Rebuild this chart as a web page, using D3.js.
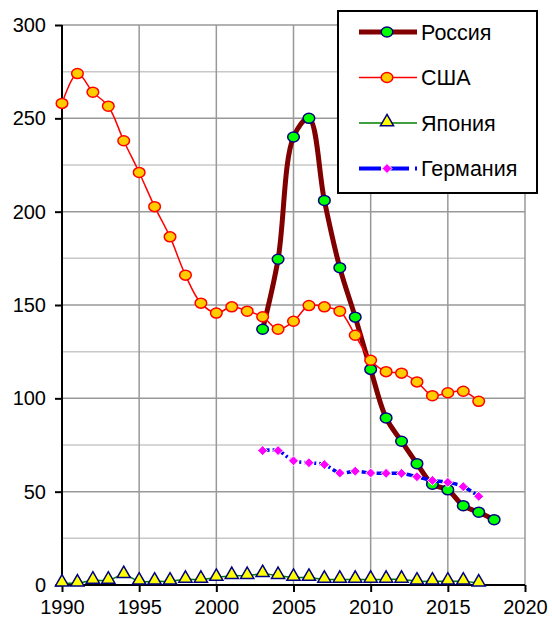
<!DOCTYPE html>
<html>
<head>
<meta charset="utf-8">
<script src="https://cdn.jsdelivr.net/npm/d3@7"></script>
<style>
  body { margin: 0; background: #fff; }
  text { font-family: Arial, "Liberation Sans", sans-serif; }
</style>
</head>
<body>
<script>
// Chart data
var russiaYears = [2003, 2004, 2005, 2006, 2007, 2008, 2009, 2010, 2011, 2012, 2013, 2014, 2015, 2016, 2017, 2018];
var russiaValues = [137, 174.5, 240, 250, 206, 170, 143.5, 115.5, 89.5, 77, 65, 54, 51, 42.5, 39, 35];

var usaYears = [1990, 1991, 1992, 1993, 1994, 1995, 1996, 1997, 1998, 1999, 2000, 2001, 2002, 2003,
  2004, 2005, 2006, 2007, 2008, 2009, 2010, 2011, 2012, 2013, 2014, 2015, 2016, 2017];
var usaValues = [258, 274, 264, 256.5, 238, 221, 202.7, 186.5, 166, 151, 145.7, 149, 146.7, 143.7,
  137, 141.3, 149.7, 149, 146.7, 133.8, 120.4, 114.3, 113.5, 108.8, 101.4, 103, 103.8, 98.4];

var japanYears = d3.range(1990, 2018);
var japanValues = [1, 1, 2.5, 2.5, 5.5, 2, 2, 2, 3, 3, 4, 5, 5, 6, 5, 4, 4, 3, 3, 3, 3, 3, 3, 2, 2, 2, 2, 1];

var germanyYears = d3.range(2003, 2018);
var germanyValues = [72, 72, 66.5, 65.5, 64.5, 60, 61, 60, 59.8, 59.8, 58, 56, 55, 52.7, 47.5];

var yTicks = [0, 50, 100, 150, 200, 250, 300];
var xTicks = [1990, 1995, 2000, 2005, 2010, 2015, 2020];

// Dimensions
var svgWidth = 552;
var svgHeight = 620;
var plot = { left: 62, right: 525, top: 25, bottom: 585 };

var svg = d3.select("body")
  .append("svg")
  .attr("width", svgWidth)
  .attr("height", svgHeight);

var xScale = d3.scaleLinear().domain([1990, 2020]).range([plot.left, plot.right]);
var yScale = d3.scaleLinear().domain([0, 300]).range([plot.bottom, plot.top]);

// Gridlines
var grid = svg.append("g");
grid.selectAll(".hminor")
  .data(d3.range(25, 300, 50))
  .enter().append("line")
  .attr("x1", plot.left).attr("x2", plot.right)
  .attr("y1", d => yScale(d)).attr("y2", d => yScale(d))
  .attr("stroke", "#c8c8c8").attr("stroke-width", 1.5);
grid.selectAll(".hmajor")
  .data(yTicks.slice(1))
  .enter().append("line")
  .attr("x1", plot.left).attr("x2", plot.right)
  .attr("y1", d => yScale(d)).attr("y2", d => yScale(d))
  .attr("stroke", "#999").attr("stroke-width", 1.5);
grid.selectAll(".vmajor")
  .data(xTicks.slice(1))
  .enter().append("line")
  .attr("x1", d => xScale(d)).attr("x2", d => xScale(d))
  .attr("y1", plot.top).attr("y2", plot.bottom)
  .attr("stroke", "#999").attr("stroke-width", 1.5);

// Axes
var yAxis = d3.axisLeft(yScale).tickValues(yTicks).tickSize(7).tickPadding(9);
var gy = svg.append("g")
  .attr("transform", `translate(${plot.left},0)`)
  .call(yAxis);
var xAxis = d3.axisBottom(xScale).tickValues(xTicks).tickSize(7).tickPadding(8).tickFormat(d3.format("d"));
var gx = svg.append("g")
  .attr("transform", `translate(0,${plot.bottom})`)
  .call(xAxis);
[gx, gy].forEach(function(g) {
  g.select(".domain").remove();
  g.selectAll("line").attr("stroke", "#000").attr("stroke-width", 2);
  g.selectAll("text").attr("font-size", 20).attr("fill", "#000")
    .style("font-family", "Arial, 'Liberation Sans', sans-serif");
});
svg.append("line")
  .attr("x1", plot.left).attr("x2", plot.left)
  .attr("y1", plot.top).attr("y2", plot.bottom)
  .attr("stroke", "#000").attr("stroke-width", 2);
svg.append("line")
  .attr("x1", plot.left).attr("x2", plot.right)
  .attr("y1", plot.bottom).attr("y2", plot.bottom)
  .attr("stroke", "#000").attr("stroke-width", 2);

// Marker shapes
var triangle = d3.symbol().type(d3.symbolTriangle).size(75);
var diamond = "M0,-5L5,0L0,5L-5,0Z";

function drawSeries(years, values, opts) {
  var data = years.map((y, i) => ({ year: y, value: values[i] }));
  var line = d3.line()
    .x(d => xScale(d.year))
    .y(d => yScale(d.value))
    .curve(d3.curveCatmullRom.alpha(0.5));
  var g = svg.append("g");
  g.append("path")
    .datum(data)
    .attr("d", line)
    .attr("fill", "none")
    .attr("stroke", opts.color)
    .attr("stroke-width", opts.width)
    .attr("stroke-dasharray", opts.dash || null);
  drawMarkers(g, data.map(d => [xScale(d.year), yScale(d.value)]), opts);
}

function drawMarkers(g, points, opts) {
  points.forEach(function(p) {
    var m;
    if (opts.marker === "ellipse") {
      m = g.append("ellipse").attr("cx", p[0]).attr("cy", p[1]).attr("rx", 5.8).attr("ry", 5);
    } else if (opts.marker === "triangle") {
      m = g.append("path").attr("d", triangle()).attr("transform", `translate(${p[0]},${p[1] - 1})`);
    } else {
      m = g.append("path").attr("d", diamond).attr("transform", `translate(${p[0]},${p[1]})`);
    }
    m.attr("fill", opts.fill).attr("stroke", opts.stroke).attr("stroke-width", opts.markerStroke);
  });
}

var series = [
  { name: "Россия", years: russiaYears, values: russiaValues, color: "#800000", width: 5,
    marker: "ellipse", fill: "#00ff00", stroke: "#000080", markerStroke: 1.5 },
  { name: "США", years: usaYears, values: usaValues, color: "#ff0000", width: 1.5,
    marker: "ellipse", fill: "#ffcc00", stroke: "#ff0000", markerStroke: 1.5 },
  { name: "Япония", years: japanYears, values: japanValues, color: "#008000", width: 1.5,
    marker: "triangle", fill: "#ffff00", stroke: "#000080", markerStroke: 1.5 },
  { name: "Германия", years: germanyYears, values: germanyValues, color: "#0000ff", width: 3.5,
    dash: "7,3,2,3", marker: "diamond", fill: "#ff00ff", stroke: "#fff", markerStroke: 1 }
];

series.forEach(s => drawSeries(s.years, s.values, s));

// Legend
var legend = svg.append("g");
legend.append("rect")
  .attr("x", 338).attr("y", 11)
  .attr("width", 199).attr("height", 182)
  .attr("fill", "#fff").attr("stroke", "#000").attr("stroke-width", 2);
series.forEach(function(s, i) {
  var y = 32 + i * 45.5;
  var g = legend.append("g");
  g.append("line")
    .attr("x1", 359).attr("x2", 417)
    .attr("y1", y).attr("y2", y)
    .attr("stroke", s.color)
    .attr("stroke-width", s.name === "Германия" ? 4 : s.width)
    .attr("stroke-dasharray", s.name === "Германия" ? "22,6" : null);
  drawMarkers(g, [[387, y]], s);
  g.append("text")
    .attr("x", 421).attr("y", y + 7.5)
    .attr("font-size", 21.5)
    .text(s.name);
});
</script>
</body>
</html>
